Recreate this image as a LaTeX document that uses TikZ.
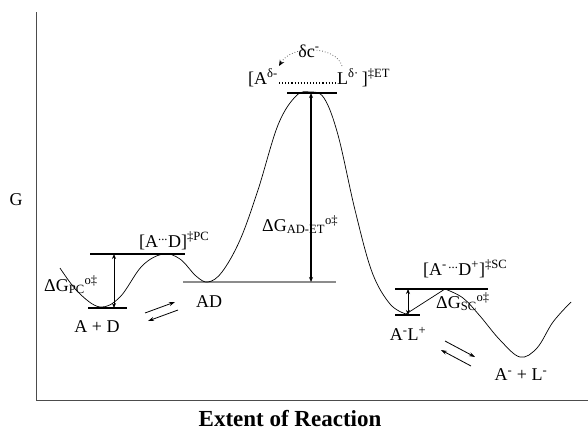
\documentclass[tikz,border=0pt]{standalone}
\usepackage{fontspec}
\setmainfont{Liberation Serif}
\usetikzlibrary{arrows.meta}
\newcommand\sups[1]{\textsuperscript{#1}}
\newcommand\subs[1]{\textsubscript{#1}}
\begin{document}
\begin{tikzpicture}[x=1pt,y=-1pt,
  lbl/.style={inner sep=0pt,font=\fontsize{18}{21}\selectfont},
  lvl/.style={line width=1.4pt},
  dbl/.style={line width=0.9pt,{Stealth[length=5pt,width=4pt]}-{Stealth[length=5pt,width=4pt]}},
  eq/.style={line width=0.8pt,-{Stealth[length=6pt,width=4pt]}},
  curve/.style={line width=0.7pt},
  axis/.style={line width=0.8pt,draw=black!70}]
\useasboundingbox (0,0) rectangle (588,431);
% axes
\coordinate (ytop) at (36,12);
\coordinate (orig) at (36,400);
\coordinate (xend) at (588,400);
\draw[axis] (ytop) -- (orig) -- (xend);
% level lines
\coordinate (adL) at (88,308); \coordinate (adR) at (127,308);
\coordinate (pcL) at (90,254); \coordinate (pcR) at (185,254);
\coordinate (pcT) at (114,254); \coordinate (pcB) at (114,308);
\draw[lvl] (adL) -- (adR);
\draw[lvl] (pcL) -- (pcR);
\draw[dbl] (pcT) -- (pcB);
\coordinate (cL) at (183,282); \coordinate (cR) at (336,282);
\draw[line width=1.4pt,black!45] (cL) -- (cR);
\coordinate (etL1) at (287,93); \coordinate (etR1) at (337,93);
\draw[lvl] (etL1) -- (etR1);
\coordinate (etT) at (311,93); \coordinate (etB) at (311,282);
\draw[dbl,line width=1.1pt] (etT) -- (etB);
\coordinate (scL) at (395,289); \coordinate (scR) at (488,289);
\coordinate (alL) at (395,315); \coordinate (alR) at (420,315);
\draw[lvl] (scL) -- (scR);
\draw[lvl] (alL) -- (alR);
\coordinate (scT) at (408,289); \coordinate (scB) at (408,315);
\draw[dbl] (scT) -- (scB);
% energy curve
\draw[curve] plot[smooth,tension=0.6] coordinates {(60,268) (78,292) (100,307) (120,297) (142,266) (163,254) (180,259) (196,276) (208,282) (222,272) (240,240) (258,190) (278,125) (296,96) (310,92) (324,98) (338,135) (355,210) (372,272) (390,304) (406,314)};
\coordinate (m3) at (406,314); \coordinate (p3) at (445,289);
\draw[curve] (m3) -- (p3);
\draw[curve] plot[smooth,tension=0.6] coordinates {(445,289) (463,298) (480,316) (500,340) (520,357) (537,348) (553,322) (571,302)};
% equilibrium arrows
\coordinate (e1a) at (145,313); \coordinate (e1b) at (175,302);
\coordinate (e1c) at (178,310); \coordinate (e1d) at (148,321);
\draw[eq] (e1a) -- (e1b);
\draw[eq] (e1c) -- (e1d);
\coordinate (e2a) at (445,341); \coordinate (e2b) at (475,357);
\coordinate (e2c) at (471,366); \coordinate (e2d) at (441,350);
\draw[eq] (e2a) -- (e2b);
\draw[eq] (e2c) -- (e2d);
% labels
\node[lbl] (g) at (16,200) {G};
\node[lbl,anchor=base west] (dgpc) at (44,291) {ΔG\subs{PC}\sups{o‡}};
\node[lbl,anchor=base west] (tspc) at (139,247) {[A\sups{...}D]\sups{‡PC}};
\node[lbl] (apd) at (97,327) {A + D};
\node[lbl] (adc) at (209,302) {AD};
\node[lbl,anchor=base west] (dget) at (262,231) {ΔG\subs{AD-ET}\sups{o‡}};
\node[lbl,anchor=base east] (etA) at (278,84) {[A\sups{δ-}};
\node[lbl,anchor=base west] (etLn) at (337,84) {L\sups{δ·}\,]\sups{‡ET}};
\draw[dotted,line width=1.1pt] ([xshift=1pt,yshift=1pt]etA.base east) -- ([xshift=-1pt,yshift=1pt]etLn.base west);
\node[lbl] (dc) at (309,51) {δc\sups{-}};
\coordinate (arcS) at (342,66); \coordinate (arcE) at (279,66);
\draw[dotted,line width=0.8pt,black!60,-{Stealth[length=6pt,width=5pt,black]}] (arcS) .. controls (336,46) and (292,44) .. (arcE);
\node[lbl,anchor=base west] (tssc) at (423,275) {[A\sups{-\,...}D\sups{+}]\sups{‡SC}};
\node[lbl,anchor=base west] (dgsc) at (436,308) {ΔG\subs{SC}\sups{o‡}};
\node[lbl] (alp) at (408,334) {A\sups{-}L\sups{+}};
\node[lbl] (apl) at (521,375) {A\sups{-} + L\sups{-}};
\node[inner sep=0pt,font=\fontsize{23}{26}\selectfont\bfseries] (ext) at (290,419) {Extent of Reaction};
\end{tikzpicture}
\end{document}
